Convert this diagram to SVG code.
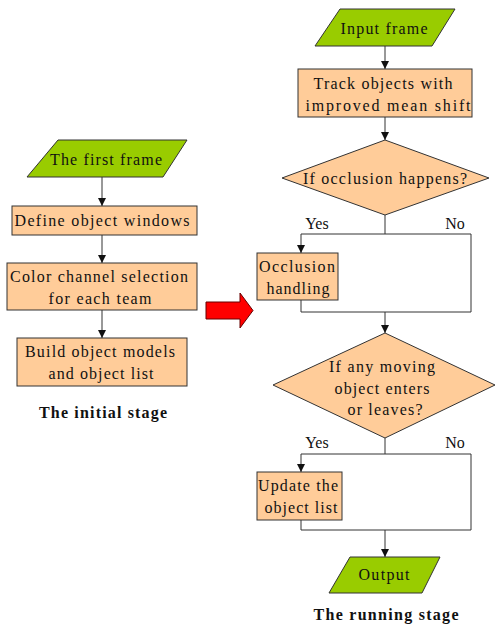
<svg xmlns="http://www.w3.org/2000/svg" width="496" height="628" viewBox="0 0 496 628" font-family="'Liberation Serif', 'DejaVu Serif', serif">
<defs>
<style>
.io{fill:#99cc00;stroke:#333;stroke-width:1}
.pr{fill:#ffcc99;stroke:#333;stroke-width:1}
.ln{fill:none;stroke:#333;stroke-width:1}
text{font-family:'Liberation Serif','DejaVu Serif',serif;font-size:16px;fill:#111;text-anchor:middle}
.b{font-weight:bold}
</style>
<marker id="ah" viewBox="0 0 10 10" refX="10" refY="5" markerWidth="8" markerHeight="8" markerUnits="userSpaceOnUse" orient="auto">
<path d="M0,0 L10,5 L0,10 Z" fill="#111"/>
</marker>
</defs>
<rect width="496" height="628" fill="#fff"/>

<g id="connectors">
<line class="ln" x1="102" y1="177" x2="102" y2="206" marker-end="url(#ah)"/>
<line class="ln" x1="102" y1="235" x2="102" y2="263" marker-end="url(#ah)"/>
<line class="ln" x1="102" y1="310" x2="102" y2="338" marker-end="url(#ah)"/>
<line class="ln" x1="385" y1="46" x2="385" y2="69" marker-end="url(#ah)"/>
<line class="ln" x1="385" y1="117" x2="385" y2="140" marker-end="url(#ah)"/>
<polyline class="ln" points="385,215 385,234"/>
<polyline class="ln" points="301,300 301,312 471,312 471,234 301,234 301,253" marker-end="url(#ah)"/>
<line class="ln" x1="385" y1="312" x2="385" y2="333" marker-end="url(#ah)"/>
<polyline class="ln" points="385,438 385,454"/>
<polyline class="ln" points="301,520 301,530 471,530 471,454 301,454 301,472" marker-end="url(#ah)"/>
<line class="ln" x1="385" y1="530" x2="385" y2="557" marker-end="url(#ah)"/>
<text x="317" y="229">Yes</text>
<text x="455" y="229">No</text>
<text x="317" y="448">Yes</text>
<text x="455" y="448">No</text>
<path d="M206,302 H240 V293 L253,310.5 L240,328 V319 H206 Z" fill="#ff0000" stroke="#600" stroke-width="1"/>
</g>

<g id="first-frame">
<polygon class="io" points="58,140 187,140 163,177 27,177"/>
<text x="106" y="165" textLength="112" lengthAdjust="spacing">The first frame</text>
</g>
<g id="define-windows">
<rect class="pr" x="12" y="206" width="185" height="29"/>
<text x="102" y="226" textLength="175" lengthAdjust="spacing">Define object windows</text>
</g>
<g id="color-channel">
<rect class="pr" x="7" y="263" width="190" height="47"/>
<text x="99" y="282" textLength="178" lengthAdjust="spacing">Color channel selection</text>
<text x="100" y="304" textLength="103" lengthAdjust="spacing">for each team</text>
</g>
<g id="build-models">
<rect class="pr" x="17" y="338" width="170" height="48"/>
<text x="100" y="357" textLength="150" lengthAdjust="spacing">Build object models</text>
<text x="101" y="379" textLength="105" lengthAdjust="spacing">and object list</text>
</g>
<g id="initial-stage-label">
<text class="b" x="103" y="418" textLength="128" lengthAdjust="spacing">The initial stage</text>
</g>

<g id="input-frame">
<polygon class="io" points="340,9 455,9 432,46 315,46"/>
<text x="384" y="34" textLength="87" lengthAdjust="spacing">Input frame</text>
</g>
<g id="track-objects">
<rect class="pr" x="298" y="69" width="174" height="48"/>
<text x="383" y="89" textLength="139" lengthAdjust="spacing">Track objects with</text>
<text x="388" y="111" textLength="165" lengthAdjust="spacing">improved mean shift</text>
</g>
<g id="occlusion-decision">
<polygon class="pr" points="385,140 489,178 385,215 282,178"/>
<text x="385" y="184" textLength="164" lengthAdjust="spacing">If occlusion happens?</text>
</g>
<g id="occlusion-handling">
<rect class="pr" x="257" y="253" width="81" height="47"/>
<text x="297" y="272" textLength="76" lengthAdjust="spacing">Occlusion</text>
<text x="298" y="294" textLength="63" lengthAdjust="spacing">handling</text>
</g>
<g id="moving-decision">
<polygon class="pr" points="385,333 495,385 385,438 273,385"/>
<text x="382" y="372" textLength="106" lengthAdjust="spacing">If any moving</text>
<text x="382" y="394" textLength="95" lengthAdjust="spacing">object enters</text>
<text x="385" y="415" textLength="75" lengthAdjust="spacing">or leaves?</text>
</g>
<g id="update-list">
<rect class="pr" x="257" y="472" width="85" height="48"/>
<text x="298" y="491" textLength="80" lengthAdjust="spacing">Update the</text>
<text x="301" y="513" textLength="73" lengthAdjust="spacing">object list</text>
</g>
<g id="output">
<polygon class="io" points="350,557 440,557 422,593 329,593"/>
<text x="384" y="580" textLength="51" lengthAdjust="spacing">Output</text>
</g>
<g id="running-stage-label">
<text class="b" x="386" y="620" textLength="145" lengthAdjust="spacing">The running stage</text>
</g>
</svg>
